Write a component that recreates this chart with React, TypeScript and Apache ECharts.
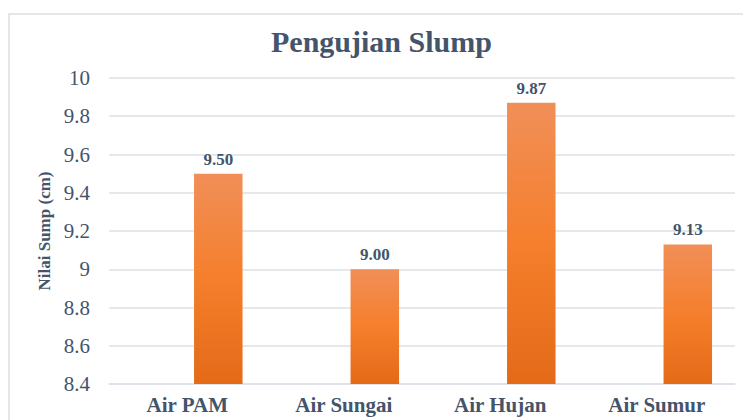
import React, { useEffect, useRef } from "react";
import * as echarts from "echarts";

const categories = ["Air PAM", "Air Sungai", "Air Hujan", "Air Sumur"];
const slumpValues = [9.5, 9.0, 9.87, 9.13];
const emptyValues = [null, null, null, null];
const titleText = "Pengujian Slump";
const yAxisName = "Nilai Sump (cm)";

const FONT = "Liberation Serif";
const TEXT_COLOR = "#44546A";

export default function App() {
  const ref = useRef<HTMLDivElement>(null);
  useEffect(() => {
    document.body.style.margin = "0";
    if (!ref.current) return;
    const chart = echarts.init(ref.current, null, { renderer: "svg" });
    chart.setOption({
      animation: false,
      backgroundColor: "#ffffff",
      title: {
        text: titleText,
        left: 266,
        top: 21,
        textStyle: {
          fontFamily: FONT,
          fontWeight: "bold",
          fontSize: 30,
          color: TEXT_COLOR,
        },
      },
      graphic: [
        {
          type: "rect",
          shape: { x: 9, y: 14, width: 780, height: 450 },
          style: { fill: "none", stroke: "#DADFE6", lineWidth: 1.5 },
          silent: true,
          z: -1,
        },
      ],
      grid: { left: 109, right: 8, top: 78, bottom: 36, containLabel: false },
      xAxis: {
        type: "category",
        data: categories,
        axisLine: { show: true, lineStyle: { color: "#DDE1E7", width: 1.5 } },
        axisTick: { show: false },
        axisLabel: {
          fontFamily: FONT,
          fontWeight: "bold",
          fontSize: 21,
          color: TEXT_COLOR,
          margin: 10,
        },
      },
      yAxis: {
        type: "value",
        min: 8.4,
        max: 10,
        interval: 0.2,
        name: yAxisName,
        nameLocation: "middle",
        nameGap: 55,
        nameTextStyle: {
          fontFamily: FONT,
          fontWeight: "bold",
          fontSize: 17,
          color: TEXT_COLOR,
        },
        axisLine: { show: false },
        axisTick: { show: false },
        splitLine: { lineStyle: { color: "#DDE1E7", width: 1.5 } },
        axisLabel: {
          fontFamily: FONT,
          fontSize: 21,
          color: TEXT_COLOR,
          margin: 19,
          formatter: (v: number) => String(Math.round(v * 10) / 10),
        },
      },
      series: [
        {
          type: "bar",
          data: emptyValues,
          barWidth: 48.5,
          barGap: "28%",
        },
        {
          type: "bar",
          data: slumpValues,
          barWidth: 48.5,
          barGap: "28%",
          itemStyle: {
            color: new echarts.graphic.LinearGradient(0, 0, 0, 1, [
              { offset: 0, color: "#F18F58" },
              { offset: 0.5, color: "#F57F2C" },
              { offset: 1, color: "#E46A18" },
            ]),
          },
          label: {
            show: true,
            position: "top",
            distance: 6,
            fontFamily: FONT,
            fontWeight: "bold",
            fontSize: 17,
            color: TEXT_COLOR,
            formatter: (p: any) => Number(p.value).toFixed(2),
          },
        },
      ],
    });
    return () => chart.dispose();
  }, []);
  return <div ref={ref} style={{ width: 743, height: 420 }} />;
}
